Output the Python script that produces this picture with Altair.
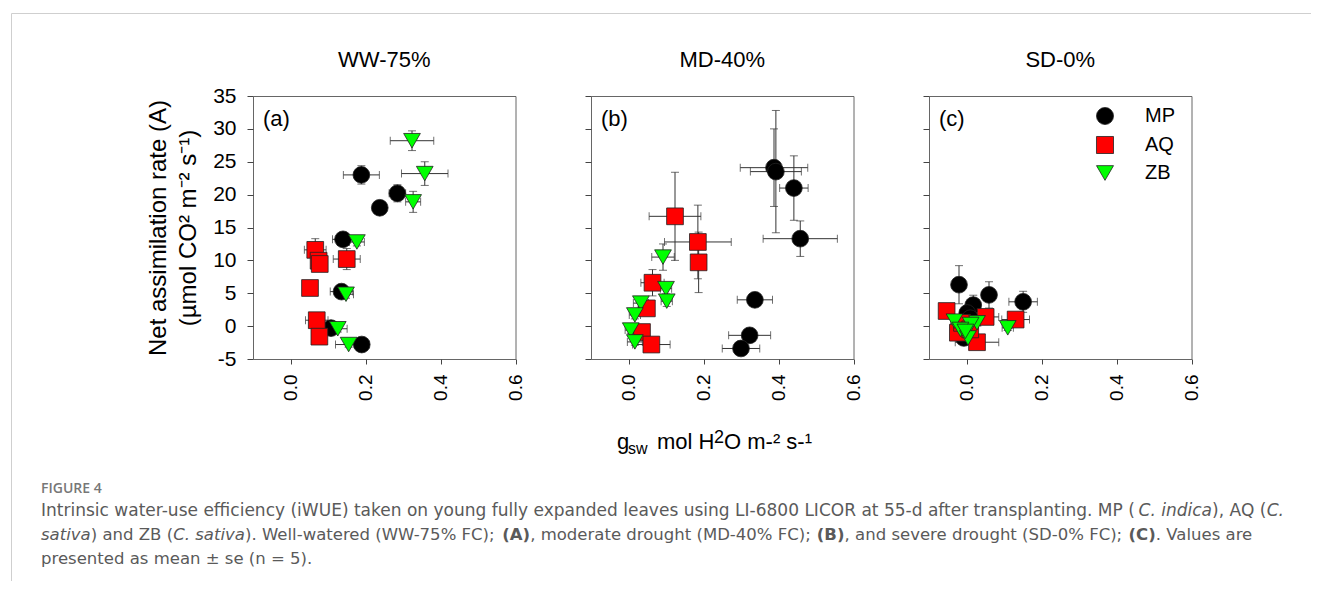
import altair as alt
import pandas as pd

FONT = "Liberation Sans"
CAP_FONT = "DejaVu Sans"

genotype_names = ["MP", "AQ", "ZB"]
genotype_colors = ["#000000", "#ff0000", "#00ff00"]
genotype_shapes = ["circle", "square", "triangle-down"]
genotypes = ["MP"] * 7 + ["AQ"] * 7 + ["ZB"] * 7

conditions = ["WW-75%", "MD-40%", "SD-0%"]
panel_letters = ["(a)", "(b)", "(c)"]

# ---- WW-75% ----
ww_gsw = [0.189, 0.285, 0.238, 0.140, 0.136, 0.108, 0.190,
          0.066, 0.075, 0.078, 0.150, 0.052, 0.070, 0.077,
          0.324, 0.358, 0.327, 0.177, 0.148, 0.126, 0.155]
ww_gsw_se = [0.048, 0.022, 0.012, 0.028, 0.030, 0.020, 0.020,
             0.029, 0.015, 0.015, 0.036, 0.012, 0.030, 0.012,
             0.058, 0.062, 0.020, 0.020, 0.020, 0.025, 0.035]
ww_A = [23.0, 20.2, 18.0, 13.2, 5.25, -0.3, -2.8,
        11.6, 9.95, 9.45, 10.2, 5.8, 0.9, -1.6,
        28.2, 23.2, 18.9, 12.8, 4.85, -0.4, -2.8]
ww_A_se = [1.4, 1.3, 0.6, 0.6, 0.5, 0.5, 0.4,
           1.7, 0.6, 0.5, 1.6, 0.5, 0.5, 0.5,
           1.5, 1.8, 1.6, 0.6, 0.6, 0.5, 0.4]

# ---- MD-40% ----
md_gsw = [0.388, 0.393, 0.441, 0.458, 0.337, 0.323, 0.300,
          0.124, 0.185, 0.187, 0.064, 0.049, 0.036, 0.061,
          0.092, 0.100, 0.102, 0.033, 0.017, 0.006, 0.017]
md_gsw_se = [0.090, 0.068, 0.038, 0.099, 0.047, 0.056, 0.050,
             0.069, 0.089, 0.010, 0.031, 0.020, 0.020, 0.050,
             0.030, 0.015, 0.015, 0.020, 0.015, 0.015, 0.020]
md_A = [24.1, 23.5, 21.0, 13.3, 4.0, -1.4, -3.4,
        16.7, 12.8, 9.7, 6.6, 2.7, -0.9, -2.8,
        10.5, 5.7, 3.8, 3.5, 1.7, -0.6, -2.4]
md_A_se = [5.9, 9.3, 4.9, 2.7, 0.5, 0.5, 0.5,
           6.7, 5.6, 4.6, 2.0, 1.0, 0.6, 0.4,
           2.0, 0.8, 0.8, 0.6, 0.6, 0.5, 0.5]

# ---- SD-0% ----
sd_gsw = [-0.020, 0.060, 0.151, 0.018, 0.002, -0.007, 0.010,
          -0.053, 0.051, 0.131, 0.028, -0.023, -0.012, 0.010,
          -0.032, 0.110, 0.028, 0.011, -0.016, 0.004, -0.003]
sd_gsw_se = [0.010, 0.010, 0.038, 0.010, 0.010, 0.010, 0.010,
             0.010, 0.035, 0.037, 0.058, 0.010, 0.010, 0.010,
             0.010, 0.015, 0.010, 0.010, 0.010, 0.010, 0.010]
sd_A = [6.3, 4.75, 3.7, 3.2, 2.0, -1.8, 1.2,
        2.3, 1.4, 1.0, -2.45, -1.0, 0.5, -0.5,
        0.76, -0.26, 0.5, 0.25, -0.5, -1.8, -0.8]
sd_A_se = [2.9, 2.0, 1.6, 1.5, 0.8, 0.5, 0.5,
           0.5, 0.6, 0.5, 0.4, 0.5, 0.5, 0.5,
           0.4, 0.4, 0.4, 0.4, 0.4, 0.4, 0.4]

x_ticks = [0.0, 0.2, 0.4, 0.6]
y_ticks = [-5, 0, 5, 10, 15, 20, 25, 30, 35]

y_title_lines = ["Net assimilation rate (A)", "(\u00b5mol CO\u00b2 m\u207b\u00b2 s\u207b\u00b9)"]

caption_head = "FIGURE 4"
# (text, style) segments: n = normal, i = italic, b = bold
caption_line1 = [
    ("Intrinsic water-use efficiency (iWUE) taken on young fully expanded leaves using LI-6800 LICOR at 55-d after transplanting. MP (", "n"),
    ("C. indica", "i"), ("), AQ (", "n"), ("C.", "i")]
caption_line2 = [
    ("sativa", "i"), (") and ZB (", "n"), ("C. sativa", "i"),
    ("). Well-watered (WW-75% FC); ", "n"), ("(A)", "b"),
    (", moderate drought (MD-40% FC); ", "n"), ("(B)", "b"),
    (", and severe drought (SD-0% FC); ", "n"), ("(C)", "b"), (". Values are", "n")]
caption_line3 = [("presented as mean \u00b1 se (n = 5).", "n")]
caption_lines = [caption_line1, caption_line2, caption_line3]
caption_line_right = [1283.0, 1253.0, None]

# DejaVu Sans advance widths (units per 2048 em), used to place caption segments
_adv = {" ": 651, "(": 799, ")": 799, ",": 651, "-": 739, ".": 651, ";": 690, "%": 1946,
        "=": 1716, "\u00b1": 1716,
        "A": 1401, "B": 1405, "C": 1430, "D": 1577, "E": 1294, "F": 1178, "G": 1587,
        "H": 1540, "I": 604, "L": 1141, "M": 1767, "N": 1532, "O": 1612, "P": 1235,
        "Q": 1612, "R": 1423, "S": 1300, "U": 1499, "V": 1401, "W": 2025, "Z": 1403,
        "a": 1255, "b": 1300, "c": 1126, "d": 1300, "e": 1260, "f": 721, "g": 1300,
        "h": 1298, "i": 569, "j": 569, "k": 1186, "l": 569, "m": 1995, "n": 1298,
        "o": 1253, "p": 1300, "q": 1300, "r": 842, "s": 1067, "t": 803, "u": 1298,
        "v": 1212, "w": 1675, "x": 1212, "y": 1212, "z": 1075}
_adv_bold = {"(": 938, ")": 938, "A": 1585, "B": 1561, "C": 1499}


def text_units(s, style):
    tot = 0
    for ch in s:
        if style == "b" and ch in _adv_bold:
            tot += _adv_bold[ch]
        elif ch.isdigit():
            tot += 1303
        else:
            tot += _adv.get(ch, 1200)
    return tot / 2048.0


CAP_LEFT = 40.0

W = 262.5
H = 263
EC = "#333333"
ORIGIN_X = 252.0
ORIGIN_Y = 94.5

one = pd.DataFrame({"k": [0]})


def make_df(gsw, gsw_se, A, A_se):
    return pd.DataFrame({"genotype": genotypes, "gsw": gsw, "gsw_se": gsw_se, "A": A, "A_se": A_se})


dfs = [make_df(ww_gsw, ww_gsw_se, ww_A, ww_A_se),
       make_df(md_gsw, md_gsw_se, md_A, md_A_se),
       make_df(sd_gsw, sd_gsw_se, sd_A, sd_A_se)]

xscale = alt.Scale(domain=[-0.1, 0.6], nice=False, zero=False)
yscale = alt.Scale(domain=[-5, 35], nice=False, zero=False)

legend = alt.Legend(title=None, orient="none", legendX=842, legendY=10, labelFont=FONT,
                    labelFontSize=20, labelColor="black", symbolSize=290, labelOffset=30,
                    rowPadding=7, padding=0, symbolStrokeWidth=0.8, symbolStrokeColor="#222")


def ann(text, x, y, size, font=FONT, color="black", align="left", weight="normal", style="normal"):
    return alt.Chart(one).mark_text(
        text=text, font=font, fontSize=size, color=color, align=align,
        baseline="alphabetic", fontWeight=weight, fontStyle=style
    ).encode(x=alt.value(x), y=alt.value(y))


def caption_layers():
    out = [ann(caption_head, CAP_LEFT - ORIGIN_X, 491 - ORIGIN_Y, 14, font="Open Sans",
               color="#777777", weight=600)]
    size = None
    for k, segs in enumerate(caption_lines):
        right = caption_line_right[k]
        if right is not None:
            size = (right - CAP_LEFT) / sum(text_units(t, s) for t, s in segs)
        x = CAP_LEFT
        y = 514 + 24 * k - ORIGIN_Y
        for t, s in segs:
            out.append(ann(t, x - ORIGIN_X, y, size, font=CAP_FONT, color="#5a5a5a",
                           weight="bold" if s == "b" else "normal",
                           style="italic" if s == "i" else "normal"))
            x += text_units(t, s) * size
    return out


def panel(i):
    df = dfs[i]
    base = alt.Chart(df).transform_calculate(
        xlo="datum.gsw - datum.gsw_se", xhi="datum.gsw + datum.gsw_se",
        ylo="datum.A - datum.A_se", yhi="datum.A + datum.A_se")
    xax = alt.Axis(values=x_ticks, labelExpr="format(datum.value, '.1f')", labelAngle=-90,
                   labelFont=FONT, labelFontSize=19, labelColor="black", tickColor="#444",
                   tickSize=5, labelPadding=10, domain=False, grid=False, title=None)
    if i == 0:
        yax = alt.Axis(values=y_ticks, labelExpr="'' + datum.value", labelFont=FONT,
                       labelFontSize=21, labelColor="black", tickColor="#444", tickSize=6,
                       labelPadding=11, domain=False, grid=False, title=y_title_lines,
                       titleFont=FONT, titleFontSize=24, titleFontWeight="normal",
                       titleColor="black", titleLineHeight=30, titlePadding=12)
    else:
        yax = alt.Axis(values=y_ticks, labels=False, tickColor="#444", tickSize=6,
                       domain=False, grid=False, title=None)
    X = lambda f: alt.X(f + ":Q", scale=xscale, axis=xax)
    Y = lambda f: alt.Y(f + ":Q", scale=yscale, axis=yax)

    xbar = base.mark_rule(color=EC, strokeWidth=1).encode(x=X("xlo"), x2="xhi:Q", y=Y("A"))
    ybar = base.mark_rule(color=EC, strokeWidth=1).encode(x=X("gsw"), y=Y("ylo"), y2="yhi:Q")
    cap1 = base.mark_tick(orient="vertical", size=8, thickness=1, color=EC).encode(x=X("xlo"), y=Y("A"))
    cap2 = base.mark_tick(orient="vertical", size=8, thickness=1, color=EC).encode(x=X("xhi"), y=Y("A"))
    cap3 = base.mark_tick(orient="horizontal", size=8, thickness=1, color=EC).encode(x=X("gsw"), y=Y("ylo"))
    cap4 = base.mark_tick(orient="horizontal", size=8, thickness=1, color=EC).encode(x=X("gsw"), y=Y("yhi"))
    pts = base.mark_point(filled=True, size=280, opacity=1, stroke="#222", strokeWidth=0.8).encode(
        x=X("gsw"), y=Y("A"),
        color=alt.Color("genotype:N", scale=alt.Scale(domain=genotype_names, range=genotype_colors), legend=legend),
        shape=alt.Shape("genotype:N", scale=alt.Scale(domain=genotype_names, range=genotype_shapes), legend=legend),
    )
    layers = [xbar, ybar, cap1, cap2, cap3, cap4, pts,
              ann(conditions[i], W / 2, -29.5, 22, align="center"),
              ann(panel_letters[i], 10, 29.5, 22)]
    if i == 1:
        layers += [ann("g", 26, 352.5, 22), ann("sw", 37, 357.5, 16), ann("mol H", 66, 352.5, 22),
                   ann("2", 123, 346.5, 18), ann("O m-\u00b2 s-\u00b9", 133, 352.5, 22)]
    if i == 0:
        layers += [
            alt.Chart(one).mark_rule(color="#cfcfcf", strokeWidth=1).encode(
                x=alt.value(-241.5), x2=alt.value(1058), y=alt.value(-82.5)),
            alt.Chart(one).mark_rule(color="#cfcfcf", strokeWidth=1).encode(
                x=alt.value(-241.5), y=alt.value(-82.5), y2=alt.value(485)),
        ]
        layers += caption_layers()
    return alt.layer(*layers).properties(width=W, height=H)


chart = alt.hconcat(panel(0), panel(1), panel(2), spacing=75).properties(
    bounds="flush",
    padding={"left": 2, "top": 4, "right": 0, "bottom": 0},
).configure_view(stroke="#666666", strokeWidth=1)

chart.save("out.html", embed_options={"renderer": "svg", "actions": False})
